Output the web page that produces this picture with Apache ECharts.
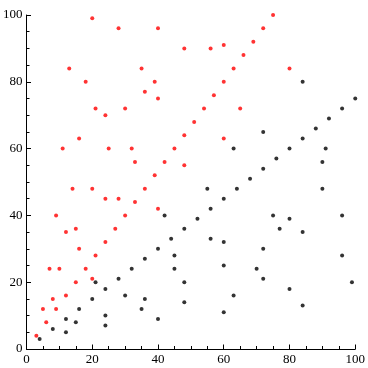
<!DOCTYPE html>
<html><head><meta charset="utf-8">
<script src="https://cdn.jsdelivr.net/npm/echarts@6/dist/echarts.min.js"></script>
<style>html,body{margin:0;padding:0;background:#fff}#c{width:368px;height:368px}</style>
</head><body><div id="c"></div>
<script>
var redX = [3,6,9,12,15,18,21,24,27,30,33,36,39,42,45,48,51,54,57,60,63,66,69,72,75,
  5,10,15,20,25,30,35,40, 8,16,24,32,40,48, 7,14,21,28, 20,40,60,80, 12,24, 9,18, 28,56,
  11,33,16,48, 13,36,39,65,20,60];
var redY = [4,8,12,16,20,24,28,32,36,40,44,48,52,56,60,64,68,72,76,80,84,88,92,96,100,
  12,24,36,48,60,72,84,96, 15,30,45,60,75,90, 24,48,72,96, 21,42,63,84, 35,70, 40,80, 45,90,
  60,56,63,55, 84,77,80,72,99,91];
var blackX = [4,8,12,16,20,24,28,32,36,40,44,48,52,56,60,64,68,72,76,80,84,88,92,96,100,
  12,24,36,48,60,72,84,96, 15,30,45,60,75,90, 24,48,72,96, 21,42,63,84, 35,70, 40,80, 45,90,
  60,56,63,55, 84,77,80,72,99,91];
var blackY = [3,6,9,12,15,18,21,24,27,30,33,36,39,42,45,48,51,54,57,60,63,66,69,72,75,
  5,10,15,20,25,30,35,40, 8,16,24,32,40,48, 7,14,21,28, 20,40,60,80, 12,24, 9,18, 28,56,
  11,33,16,48, 13,36,39,65,20,60];
var ticks = [0,20,40,60,80,100];

function pairs(xs, ys){ return xs.map(function(x,i){ return [x, ys[i]]; }); }
var lbl = {fontFamily:'Liberation Serif', fontSize:13, color:'#000'};
function axis(pos){
  return {
    type:'value', min:0, max:100, interval:20, position:pos,
    axisLine:{show:true, onZero:false, lineStyle:{color:'#000', width:1}},
    axisTick:{show:true, inside:true, length:4.5, lineStyle:{color:'#000'}},
    minorTick:{show:true, splitNumber:4, length:3, lineStyle:{color:'#000'}},
    splitLine:{show:false},
    axisLabel:Object.assign({margin:4, formatter:function(v){return ticks.indexOf(v)>=0?String(v):'';}}, lbl)
  };
}
var chart = echarts.init(document.getElementById('c'));
chart.setOption({
  animation:false,
  grid:{left:22, right:11, top:15, bottom:19, containLabel:false},
  xAxis: axis('bottom'),
  yAxis: axis('left'),
  series:[
    {type:'scatter', data:pairs(blackX, blackY), symbolSize:4, itemStyle:{color:'#000'}, clip:true},
    {type:'scatter', data:pairs(redX, redY), symbolSize:4, itemStyle:{color:'#ff0000'}, clip:true}
  ]
});
</script></body></html>
